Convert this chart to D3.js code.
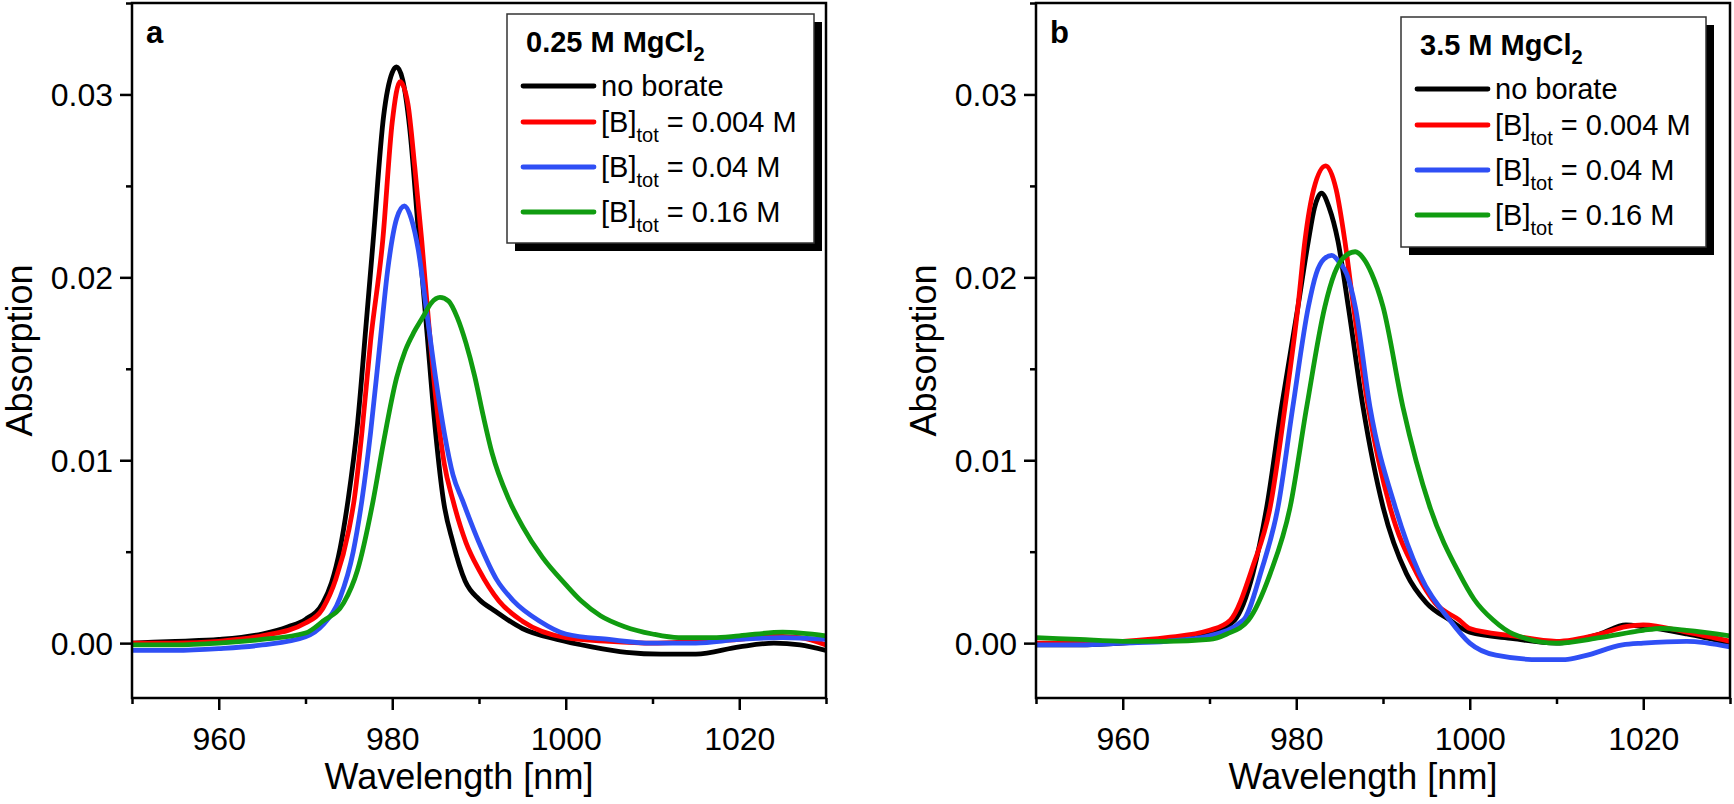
<!doctype html>
<html lang="en">
<head>
  <meta charset="utf-8">
  <title>Absorption spectra</title>
  <script src="https://d3js.org/d3.v7.min.js"></script>
  <style>
    body { margin: 0; background: #fff; }
    svg { display: block; font-family: "Liberation Sans", Arial, sans-serif; }
  </style>
</head>
<body>
  <svg id="chart" width="1734" height="804"></svg>
  <script>
    // x domain and ticks
    const xMajor = [960, 980, 1000, 1020];
    const xMinor = [950, 970, 990, 1010, 1030];
    const yMajor = [0, 0.01, 0.02, 0.03];
    const yMinor = [0.005, 0.015, 0.025, 0.035];

    const panelTitles = ["0.25 M MgCl", "3.5 M MgCl"];
    const panelLetters = ["a", "b"];
    const seriesLabels = ["no borate", "0.004 M", "0.04 M", "0.16 M"];
    const colors = ["#000000", "#ff0000", "#2f4ff5", "#109c10"];

    // panel a : 0.25 M MgCl2  [wavelength, absorption]
    const aNoBorate = [[950,0.0000],[955,0.0001],[960,0.0002],[965,0.0005],[968,0.0009],[970,0.0013],[972,0.0022],
      [973,0.0033],[974,0.0052],[974.9,0.0078],[976,0.0120],[977,0.0175],[977.8,0.0220],[979,0.0288],[980,0.0312],
      [980.5,0.0315],[981.2,0.0308],[982,0.0282],[983.1,0.0220],[984,0.0170],[985,0.0115],[985.9,0.0078],[987,0.0055],
      [988.4,0.0034],[990,0.0024],[991.7,0.0018],[995,0.0008],[999,0.0002],[1003,-0.0002],[1007,-0.0005],
      [1011,-0.0006],[1015,-0.0006],[1020,-0.0002],[1024,0.0000],[1027,-0.0001],[1030,-0.0004]];
    const aB004 = [[950,0.0000],[955,0.0000],[960,0.0001],[965,0.0004],[970,0.0011],[972,0.0019],[973.5,0.0035],
      [975,0.0062],[975.6,0.0078],[976.5,0.0115],[977.5,0.0165],[978.9,0.0220],[980,0.0285],[980.9,0.0307],
      [981.8,0.0295],[982.6,0.0260],[983.4,0.0220],[984.2,0.0175],[985,0.0135],[986,0.0098],[987,0.0078],
      [988.5,0.0055],[990,0.0040],[992.3,0.0023],[995,0.0012],[1000,0.0003],[1005,0.0001],[1010,0.0000],
      [1015,0.0001],[1020,0.0002],[1023,0.0004],[1027,0.0003],[1030,-0.0001]];
    const aB04 = [[950,-0.0004],[955,-0.0004],[960,-0.0003],[965,-0.0001],[970,0.00035],[972,0.0010],[974,0.0025],
      [975.5,0.0050],[976.5,0.0078],[977.5,0.0115],[978.5,0.0160],[979.5,0.0205],[980.5,0.0232],[981.4,0.0239],
      [982.2,0.0232],[983,0.0215],[984,0.0180],[985,0.0145],[986,0.0115],[987,0.0092],[988.1,0.0078],[990,0.0055],
      [992,0.0035],[994,0.0023],[997,0.0012],[1000,0.0005],[1005,0.0002],[1010,0.0000],[1015,0.0000],
      [1020,0.0002],[1025,0.0003],[1030,0.0002]];
    const aB16 = [[950,-0.0001],[955,-0.0001],[960,0.0000],[965,0.0002],[970,0.00055],[972,0.0012],[974.4,0.0022],
      [976,0.0040],[977.8,0.0078],[979,0.0110],[980.5,0.0145],[981.5,0.0160],[982.5,0.0170],[983.5,0.0178],
      [984.5,0.0186],[985.5,0.0189],[986.5,0.0187],[987.5,0.0178],[988.5,0.0164],[989.5,0.0146],[990.5,0.0124],
      [991.5,0.0104],[993.4,0.0079],[995,0.0064],[997.3,0.0047],[1000,0.0032],[1001.8,0.0023],[1004,0.0015],
      [1006.8,0.0009],[1010,0.0005],[1013,0.0003],[1017,0.0003],[1020,0.0004],[1025,0.0006],[1030,0.0004]];

    // panel b : 3.5 M MgCl2
    const bNoBorate = [[950,-0.0001],[955,-0.0001],[960,0.0000],[965,0.0002],[970,0.0005],[972.9,0.00126],
      [975,0.0038],[976.6,0.00745],[978.3,0.0129],[980.2,0.0184],[981.4,0.0220],[982.1,0.0238],[982.9,0.0246],
      [983.8,0.0238],[984.8,0.0220],[986,0.0184],[987.7,0.0129],[990,0.00745],[992.7,0.0038],[995,0.0022],
      [997.7,0.00126],[1000,0.0006],[1005,0.00025],[1010,0.0000],[1015,0.0005],[1018,0.0010],[1020,0.0009],
      [1025,0.0005],[1030,0.0000]];
    const bB004 = [[950,0.0000],[955,0.0000],[960,0.0001],[965,0.0003],[970,0.0007],[972.4,0.00126],[975,0.0042],
      [977,0.00745],[978.7,0.0129],[980.2,0.0184],[981,0.0220],[982,0.0248],[983.4,0.0261],[984.6,0.0248],
      [985.6,0.0220],[986.6,0.0184],[988.3,0.0129],[990.8,0.00745],[993.9,0.0038],[996,0.0022],[998.8,0.00126],
      [1000,0.0008],[1005,0.0004],[1010,0.0001],[1015,0.0005],[1018,0.0009],[1020,0.0010],[1025,0.0006],
      [1030,0.0001]];
    const bB04 = [[950,-0.0001],[955,-0.0001],[960,0.0000],[965,0.0001],[970,0.0004],[973.9,0.00126],[976,0.0040],
      [977.9,0.00745],[979.6,0.0129],[981.4,0.0184],[982.3,0.0202],[983.2,0.0210],[984.1,0.0212],[985,0.0208],
      [985.8,0.0202],[986.8,0.0184],[988.5,0.0129],[991.4,0.00745],[994.2,0.0038],[997.7,0.00126],[1000,0.0000],
      [1003,-0.00066],[1008,-0.0009],[1011,-0.0009],[1013.2,-0.0007],[1017.6,-0.0001],[1020,0.0000],
      [1025,0.0001],[1030,-0.0002]];
    const bB16 = [[950,0.0003],[955,0.0002],[960,0.0001],[965,0.0001],[970,0.0002],[972,0.0005],[974.5,0.00126],
      [977,0.0038],[979.3,0.00745],[981.2,0.0129],[983.3,0.0184],[984.4,0.0202],[985.5,0.0211],[986.8,0.0214],
      [987.8,0.0210],[988.7,0.0202],[990,0.0184],[992.3,0.0129],[995.4,0.00745],[998.8,0.0038],[1000.5,0.0024],
      [1002.7,0.00126],[1005,0.0005],[1010,0.0000],[1015,0.0003],[1020,0.0007],[1022,0.0008],[1025,0.0007],
      [1030,0.0004]];

    const panelSeries = [[aNoBorate, aB004, aB04, aB16], [bNoBorate, bB004, bB04, bB16]];

    const svg = d3.select("#chart");
    const panels = [
      { left: 132, legend: { x: 507, y: 14, w: 307, h: 229 } },
      { left: 1036, legend: { x: 1401, y: 17, w: 305, h: 230 } }
    ];
    const plotW = 694, plotTop = 3, plotBottom = 698;

    panels.forEach(function (p, pi) {
      const x = d3.scaleLinear().domain([950, 1030]).range([p.left, p.left + plotW]);
      const y = d3.scaleLinear().domain([-0.003, 0.035]).range([plotBottom, plotTop]);
      const g = svg.append("g");

      g.append("clipPath").attr("id", "clip" + pi)
        .append("rect").attr("x", p.left).attr("y", plotTop)
        .attr("width", plotW).attr("height", plotBottom - plotTop);

      // curves
      const line = d3.line()
        .x(d => x(d[0]))
        .y(d => y(d[1]))
        .curve(d3.curveMonotoneX);

      g.append("g").attr("clip-path", "url(#clip" + pi + ")")
        .selectAll("path")
        .data(panelSeries[pi])
        .enter().append("path")
        .attr("d", line)
        .attr("fill", "none")
        .attr("stroke", (d, i) => colors[i])
        .attr("stroke-width", 4.8)
        .attr("stroke-linejoin", "round")
        .attr("stroke-linecap", "round");

      // axes
      const xAxis = g.append("g").attr("transform", "translate(0," + plotBottom + ")")
        .call(d3.axisBottom(x).tickValues(xMajor).tickSize(12).tickPadding(10).tickFormat(d3.format("d")));
      const xAxisMinor = g.append("g").attr("transform", "translate(0," + plotBottom + ")")
        .call(d3.axisBottom(x).tickValues(xMinor).tickSize(6).tickFormat(""));
      const yAxis = g.append("g").attr("transform", "translate(" + p.left + ",0)")
        .call(d3.axisLeft(y).tickValues(yMajor).tickSize(12).tickPadding(7).tickFormat(d3.format(".2f")));
      const yAxisMinor = g.append("g").attr("transform", "translate(" + p.left + ",0)")
        .call(d3.axisLeft(y).tickValues(yMinor).tickSize(6).tickFormat(""));

      [xAxis, xAxisMinor, yAxis, yAxisMinor].forEach(function (a) {
        a.select(".domain").remove();
        a.selectAll(".tick line").attr("stroke", "#000").attr("stroke-width", 2.5);
        a.selectAll(".tick text").attr("fill", "#000")
          .style("font-family", "'Liberation Sans', Arial, sans-serif")
          .style("font-size", "32px");
      });
      xAxis.selectAll(".tick text").attr("dy", "0.93em");
      yAxis.selectAll(".tick text").attr("dy", "0.34em");

      // frame
      g.append("rect")
        .attr("x", p.left).attr("y", plotTop)
        .attr("width", plotW).attr("height", plotBottom - plotTop)
        .attr("fill", "none").attr("stroke", "#000").attr("stroke-width", 2.5);

      // axis titles
      g.append("text")
        .attr("x", p.left + 327).attr("y", 789)
        .attr("text-anchor", "middle")
        .style("font-size", "36px")
        .text("Wavelength [nm]");
      g.append("text")
        .attr("transform", "translate(" + (p.left - 100) + "," + ((plotTop + plotBottom) / 2) + ") rotate(-90)")
        .attr("text-anchor", "middle")
        .style("font-size", "36px")
        .text("Absorption");

      // panel letter
      g.append("text")
        .attr("x", p.left + 14).attr("y", 43)
        .style("font-size", "31px").style("font-weight", "bold")
        .text(panelLetters[pi]);

      // legend
      const L = p.legend;
      const lg = g.append("g");
      lg.append("rect").attr("x", L.x + 8).attr("y", L.y + 8)
        .attr("width", L.w).attr("height", L.h).attr("fill", "#000");
      lg.append("rect").attr("x", L.x).attr("y", L.y)
        .attr("width", L.w).attr("height", L.h)
        .attr("fill", "#fff").attr("stroke", "#333").attr("stroke-width", 1.5);

      const title = lg.append("text")
        .attr("x", L.x + 19).attr("y", L.y + 38)
        .style("font-size", "29px").style("font-weight", "bold");
      title.append("tspan").text(panelTitles[pi]);
      title.append("tspan").attr("dy", 9).style("font-size", "20px").text("2");

      const itemY = [72, 108, 153, 198];
      seriesLabels.forEach(function (lab, i) {
        const cy = L.y + itemY[i];
        lg.append("line")
          .attr("x1", L.x + 16).attr("x2", L.x + 87)
          .attr("y1", cy).attr("y2", cy)
          .attr("stroke", colors[i]).attr("stroke-width", 4.8)
          .attr("stroke-linecap", "round");
        const t = lg.append("text")
          .attr("x", L.x + 94).attr("y", cy + 10)
          .style("font-size", "29px");
        if (i === 0) {
          t.text(lab);
        } else {
          t.append("tspan").text("[B]");
          t.append("tspan").attr("dy", 10).style("font-size", "20px").text("tot");
          t.append("tspan").attr("dy", -10).text(" = " + lab);
        }
      });
    });
  </script>
</body>
</html>
